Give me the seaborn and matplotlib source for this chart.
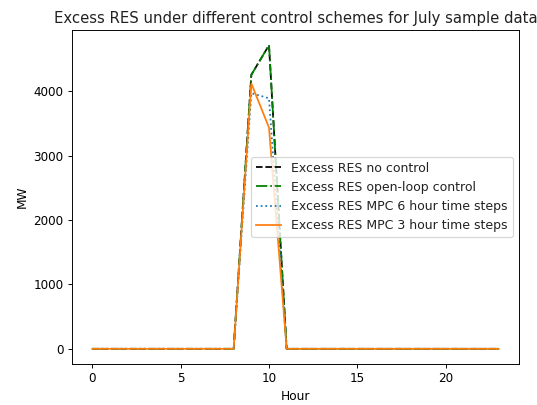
import numpy as np
import pandas as pd
import matplotlib
matplotlib.use("Agg")
import matplotlib.pyplot as plt
import seaborn as sns

# Hourly excess RES (MW)
hours = list(range(24))
no_control = [0] * 9 + [4255, 4715] + [0] * 13
open_loop = [0] * 9 + [4255, 4715] + [0] * 13
mpc_6h = [0] * 9 + [3970, 3890] + [0] * 13
mpc_3h = [0] * 9 + [4120, 3435] + [0] * 13

series = [
    ("Excess RES no control", no_control, "black", "--"),
    ("Excess RES open-loop control", open_loop, "green", "-."),
    ("Excess RES MPC 6 hour time steps", mpc_6h, "tab:blue", ":"),
    ("Excess RES MPC 3 hour time steps", mpc_3h, "tab:orange", "-"),
]

plt.rcParams['text.color'] = '#222222'

fig, ax = plt.subplots(figsize=(537 / 85, 405 / 85), dpi=85)
fig.subplots_adjust(left=72 / 537, right=519 / 537, top=1 - 30 / 405, bottom=1 - 364 / 405)

for label, vals, color, ls in series:
    sns.lineplot(x=hours, y=vals, ax=ax, color=color, linestyle=ls, label=label)

ax.set_title("Excess RES under different control schemes for July sample data", fontsize=12.6)
ax.set_xlabel("Hour", fontsize=10.3)
ax.set_ylabel("MW", fontsize=10.3)
ax.tick_params(labelsize=10.2)
ax.legend(loc="center right", fontsize=10.6)

fig.savefig("out.png", dpi=85)
